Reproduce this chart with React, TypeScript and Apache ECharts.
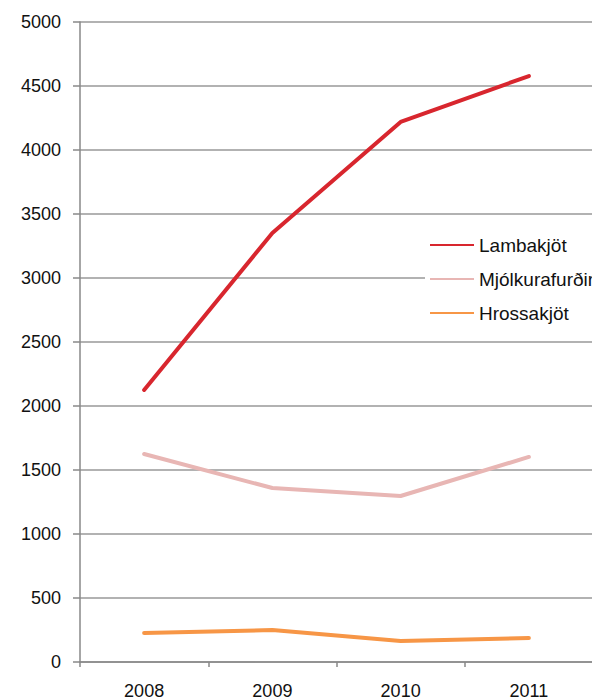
import React, { useEffect, useRef } from "react";
import * as echarts from "echarts";

const years = ["2008", "2009", "2010", "2011"];
const lambakjot = [2125, 3352, 4219, 4578];
const mjolkurafurdir = [1625, 1359, 1297, 1602];
const hrossakjot = [227, 250, 164, 188];

export default function App() {
  const ref = useRef<HTMLDivElement>(null);
  useEffect(() => {
    if (!ref.current) return;
    const chart = echarts.init(ref.current, undefined, { renderer: "svg" });
    const font = "Liberation Sans, Arial, sans-serif";
    const mk = (name: string, data: number[], color: string) => ({
      name,
      type: "line",
      data,
      showSymbol: false,
      symbol: "none",
      lineStyle: { color, width: 4, cap: "round", join: "round" },
      itemStyle: { color },
    });
    chart.setOption({
      animation: false,
      backgroundColor: "#fff",
      grid: { left: 80, right: 7, top: 22, bottom: 36, containLabel: false },
      legend: {
        orient: "vertical",
        left: 425,
        top: 229,
        padding: [6, 5, 6, 5],
        backgroundColor: "#fff",
        icon: "rect",
        itemWidth: 44,
        itemHeight: 2,
        itemGap: 14,
        itemTextGap: 6,
        textStyle: { fontFamily: font, fontSize: 19, lineHeight: 20, color: "#111" },
        data: ["Lambakjöt", "Mjólkurafurðir", "Hrossakjöt"],
      },
      xAxis: {
        type: "category",
        data: years,
        boundaryGap: true,
        axisLine: { lineStyle: { color: "#888", width: 1.5 } },
        axisTick: { show: true, alignWithLabel: false, length: 5, lineStyle: { color: "#888", width: 1.5 } },
        axisLabel: { fontFamily: font, fontSize: 18, color: "#111", margin: 20 },
      },
      yAxis: {
        type: "value",
        min: 0,
        max: 5000,
        interval: 500,
        axisLine: { show: true, lineStyle: { color: "#888", width: 1.5 } },
        axisTick: { show: true, length: 7, lineStyle: { color: "#888", width: 1.5 } },
        splitLine: { show: true, lineStyle: { color: "#999", width: 1.5 } },
        axisLabel: {
          fontFamily: font,
          fontSize: 18,
          color: "#111",
          margin: 19,
          formatter: (v: number) => String(v),
        },
      },
      series: [
        mk("Lambakjöt", lambakjot, "#D8262E"),
        mk("Mjólkurafurðir", mjolkurafurdir, "#E8B6B4"),
        mk("Hrossakjöt", hrossakjot, "#F79646"),
      ],
    });
    return () => chart.dispose();
  }, []);
  return (
    <div style={{ position: "fixed", left: 0, top: 0, width: 592, height: 700, overflow: "hidden", background: "#fff" }}>
      <div ref={ref} style={{ width: 600, height: 700 }} />
    </div>
  );
}
